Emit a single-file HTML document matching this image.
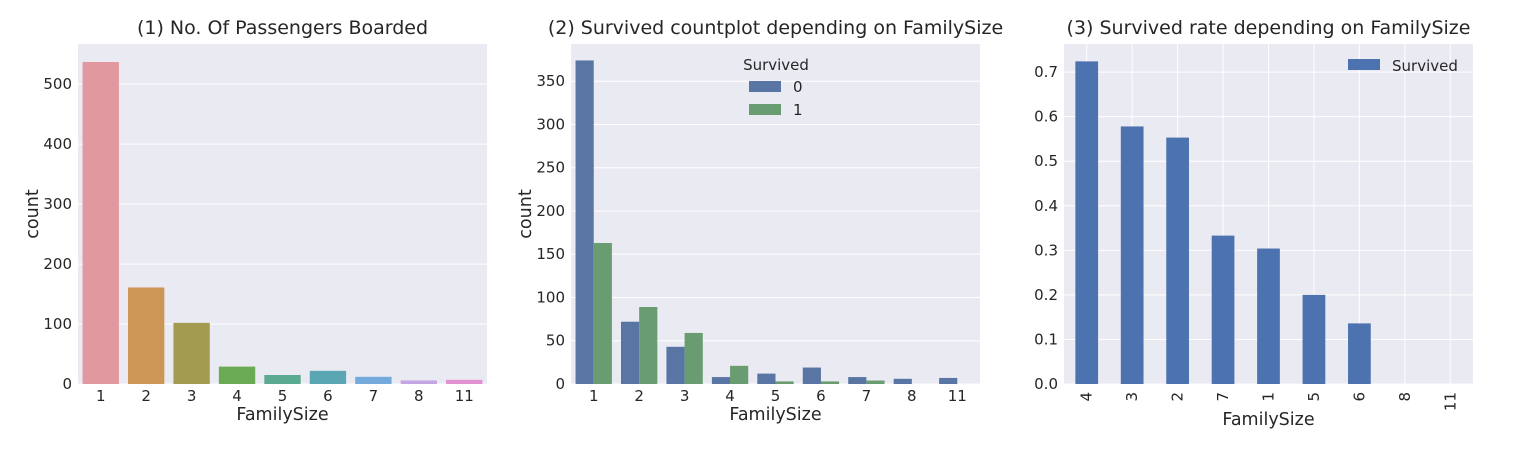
<!DOCTYPE html>
<html><head><meta charset="utf-8">
<style>
body{margin:0;background:#fff;}
svg{display:block;font-family:"DejaVu Sans","Liberation Sans",sans-serif;}
</style></head>
<body>
<svg id="chart" width="1528" height="468"></svg>
<script>
const cats=["1","2","3","4","5","6","7","8","11"];
const counts=[537,161,102,29,15,22,12,6,7];
const died=[374,72,43,8,12,19,8,6,7];
const survived=[163,89,59,21,3,3,4,0,0];
const rateCats=["4","3","2","7","1","5","6","8","11"];
const rates=[0.724,0.578,0.553,0.333,0.304,0.2,0.136,0,0];
const ticks1=[0,100,200,300,400,500];
const ticks2=[0,50,100,150,200,250,300,350];
const ticks3=[0,0.1,0.2,0.3,0.4,0.5,0.6,0.7];
const pal1=["#e1999f","#cc9657","#a39c50","#6aaa54","#5aaa92","#5ba6b3","#75abdc","#c4a6e3","#e291d0"];
const svg=document.getElementById('chart');
const NS="http://www.w3.org/2000/svg";
function mk(tag,attrs,parent,text){const e=document.createElementNS(NS,tag);for(const k in attrs)e.setAttribute(k,attrs[k]);if(text!==undefined)e.textContent=text;(parent||svg).appendChild(e);return e;}
const TOP=44,BOT=384;
function panel(x0,w,max,ticks,fmt,title,ylab,id){
  const g=mk('g',{});
  
  
  const bg=mk('rect',{x:x0,y:TOP,width:w,height:BOT-TOP,fill:"#eaeaf2"},g);
  
  
  const y=v=>BOT-v/max*(BOT-TOP);
  ticks.forEach(t=>{
    mk('line',{x1:x0,x2:x0+w,y1:y(t),y2:y(t),stroke:"#fff","stroke-width":1},g);
    const tl=mk('text',{x:x0-6,y:y(t)+5,"text-anchor":"end","font-size":15,fill:"#262626"},g,fmt(t));
    
    
  });
  const tt=mk('text',{x:x0+w/2,y:34,"text-anchor":"middle","font-size":19,fill:"#262626"},g,title);
  
  
  if(ylab){
    const yl=mk('text',{transform:`translate(${x0-40},${(TOP+BOT)/2}) rotate(-90)`,"text-anchor":"middle","font-size":17.5,fill:"#262626"},g,ylab);
    
    
  }
  return {g,y,slot:w/9};
}
// Panel 1
(function(){
  const x0=78,w=409;const p=panel(x0,w,567,ticks1,t=>t,"(1) No. Of Passengers Boarded","count","panel-passengers");
  cats.forEach((c,i)=>{const cx=x0+p.slot*(i+0.5);const bw=p.slot*0.8;
    const r=mk('rect',{x:cx-bw/2,y:p.y(counts[i]),width:bw,height:BOT-p.y(counts[i]),fill:pal1[i]},p.g);
    
    
    const l=mk('text',{x:cx,y:401,"text-anchor":"middle","font-size":15,fill:"#262626"},p.g,c);
    
    });
  const xl=mk('text',{x:x0+w/2,y:420,"text-anchor":"middle","font-size":17.5,fill:"#262626"},p.g,"FamilySize");
  
  
})();
// Panel 2
(function(){
  const x0=571,w=409;const p=panel(x0,w,393,ticks2,t=>t,"(2) Survived countplot depending on FamilySize","count","panel-survived-count");
  cats.forEach((c,i)=>{const cx=x0+p.slot*(i+0.5);const bw=p.slot*0.4;
    const a=mk('rect',{x:cx-bw,y:p.y(died[i]),width:bw,height:BOT-p.y(died[i]),fill:"#5975a4"},p.g);
    
    
    const b=mk('rect',{x:cx,y:p.y(survived[i]),width:bw,height:BOT-p.y(survived[i]),fill:"#6a9c72"},p.g);
    
    
    const l=mk('text',{x:cx,y:401,"text-anchor":"middle","font-size":15,fill:"#262626"},p.g,c);
    
    });
  const xl=mk('text',{x:x0+w/2,y:420,"text-anchor":"middle","font-size":17.5,fill:"#262626"},p.g,"FamilySize");
  
  
  const lg=mk('g',{},p.g);
  
  
  mk('text',{x:776,y:70,"text-anchor":"middle","font-size":15,fill:"#262626"},lg,"Survived");
  mk('rect',{x:749,y:81,width:32,height:11,fill:"#5975a4"},lg);
  mk('text',{x:793,y:92,"font-size":15,fill:"#262626"},lg,"0");
  mk('rect',{x:749,y:104,width:32,height:11,fill:"#6a9c72"},lg);
  mk('text',{x:793,y:115,"font-size":15,fill:"#262626"},lg,"1");
})();
// Panel 3
(function(){
  const x0=1064,w=409;const p=panel(x0,w,0.763,ticks3,t=>t.toFixed(1),"(3) Survived rate depending on FamilySize",null,"panel-survived-rate");
  rateCats.forEach((c,i)=>{const cx=x0+p.slot*(i+0.5);
    mk('line',{x1:cx,x2:cx,y1:TOP,y2:BOT,stroke:"#fff","stroke-width":1},p.g);});
  rateCats.forEach((c,i)=>{const cx=x0+p.slot*(i+0.5);const bw=p.slot*0.5;
    const r=mk('rect',{x:cx-bw/2,y:p.y(rates[i]),width:bw,height:BOT-p.y(rates[i]),fill:"#4c72b0"},p.g);
    
    
    const l=mk('text',{transform:`translate(${cx+5},392) rotate(-90)`,"text-anchor":"end","font-size":15,fill:"#262626"},p.g,c);
    
    });
  const xl=mk('text',{x:x0+w/2,y:425,"text-anchor":"middle","font-size":17.5,fill:"#262626"},p.g,"FamilySize");
  
  
  const lg=mk('g',{},p.g);
  
  
  mk('rect',{x:1348,y:59,width:32,height:11,fill:"#4c72b0"},lg);
  mk('text',{x:1392,y:71,"font-size":15,fill:"#262626"},lg,"Survived");
})();
</script>
</body></html>
